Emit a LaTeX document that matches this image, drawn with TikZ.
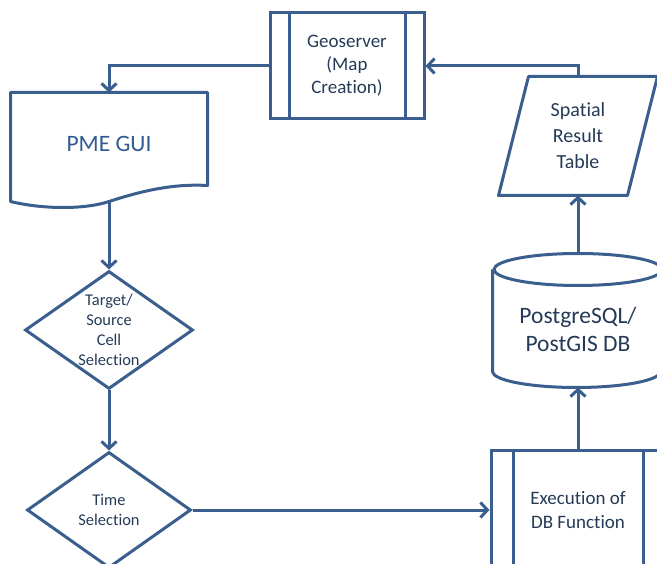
\documentclass[tikz,border=0pt]{standalone}
\usepackage{fontspec}
\setmainfont{Carlito}[Ligatures=NoCommon]
\usepackage{tikz}
\usetikzlibrary{positioning,shapes.geometric,arrows.meta}
\definecolor{lineblue}{HTML}{3A5F8E}
\definecolor{guiblue}{HTML}{2F5A93}
\definecolor{textblue}{HTML}{243A57}

\begin{document}
\begin{tikzpicture}[x=1pt, y=-1pt,
    procnode/.style={rectangle, draw=lineblue, line width=3pt, text=textblue, align=center,
        path picture={\draw[lineblue, line width=3pt]
            ([xshift=#1]path picture bounding box.north west) -- ([xshift=#1]path picture bounding box.south west)
            ([xshift=-#1]path picture bounding box.north east) -- ([xshift=-#1]path picture bounding box.south east);}},
    docnode/.style={rectangle, line width=3pt, text=guiblue, minimum width=194pt, minimum height=106pt,
        font=\fontsize{23.5}{28}\selectfont},
    decisionnode/.style={diamond, aspect=1.42, draw=lineblue, line width=3pt, inner sep=0pt, text=textblue,
        align=center, minimum width=168pt, minimum height=118pt, font=\fontsize{16.4}{20}\selectfont},
    dbnode/.style={rectangle, line width=3pt, text=textblue, align=center, minimum width=168pt,
        minimum height=131pt, text height=62pt, font=\fontsize{23.5}{28}\selectfont},
    ionode/.style={rectangle, line width=3pt, text=textblue, align=center, minimum width=126pt,
        minimum height=116pt, font=\fontsize{20}{26}\selectfont},
    outline/.style={draw=lineblue, line width=3pt, line join=round},
    flow/.style={draw=lineblue, line width=3pt, -{Straight Barb[length=7pt, width=15pt]}}]
    \useasboundingbox (0,0) rectangle (657,564);
    \clip (0,0) rectangle (657,564);

    %Nodes
    \node[procnode=19pt, minimum width=154pt, minimum height=106pt, font=\fontsize{19}{23}\selectfont]
        (geo) at (347,66) {Geoserver\\(Map\\Creation)};
    \node[docnode]      (gui)   at (109,147)            {\raisebox{7pt}{PME GUI}};
    \node[decisionnode] (cell)  [below=68pt of gui]     {Target/\\Source\\Cell\\Selection};
    \node[decisionnode, minimum width=164pt, minimum height=116pt]
                        (time)  [below=60pt of cell]    {Time\\Selection};
    \node[procnode=22pt, minimum width=174pt, minimum height=118pt, font=\fontsize{19}{24}\selectfont]
                        (exec)  [right=297pt of time]   {Execution of\\DB Function};
    \node[dbnode]       (db)    [above=62pt of exec]    {PostgreSQL/\\PostGIS DB};
    \node[ionode]       (table) [above=58pt of db]      {Spatial\\Result\\Table};

    %Shapes
    \draw[outline] (gui.south west) -- (gui.north west) -- (gui.north east) -- ([yshift=16pt]gui.south east)
        .. controls +(-36pt,2pt) and +(31pt,10pt) .. (gui.south)
        .. controls +(-24pt,-8pt) and +(33pt,-8pt) .. (gui.south west) -- cycle;
    \draw[outline] ([yshift=-16pt]db.north west) -- ([yshift=16pt]db.south west)
        arc[start angle=180, end angle=360, x radius=84pt, y radius=16pt] -- ([yshift=-16pt]db.north east);
    \draw[outline] ([yshift=-16pt]db.north) ellipse [x radius=84pt, y radius=16pt];
    \draw[outline] ([xshift=-15pt]table.south west) -- ([xshift=-15pt]table.south east)
        -- ([xshift=15pt]table.north east) -- ([xshift=15pt]table.north west) -- cycle;

    %Lines
    \draw[flow] (geo.west) -| (gui.north);
    \draw[flow] (gui.south) -- (cell.north);
    \draw[flow] (cell.south) -- (time.north);
    \draw[flow] (time.east) -- (exec.west);
    \draw[flow] (exec.north) -- (db.south);
    \draw[flow] (db.north) -- (table.south);
    \draw[flow] (table.north) |- (geo.east);
\end{tikzpicture}
\end{document}
